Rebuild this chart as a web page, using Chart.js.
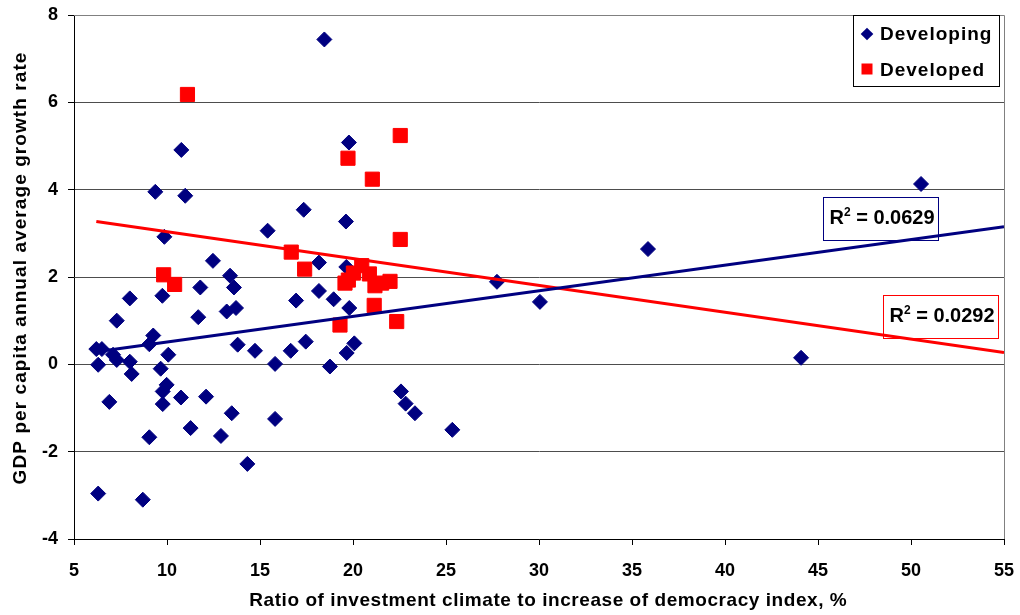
<!DOCTYPE html>
<html><head><meta charset="utf-8">
<script src="https://cdn.jsdelivr.net/npm/chart.js@4.4.0/dist/chart.umd.min.js"></script>
<style>html,body{margin:0;padding:0;background:#fff;}</style>
</head><body>
<canvas id="c" width="1020" height="615"></canvas>
<script>
// ---- data ----
const developingX = [6.2, 6.5, 6.3, 6.3, 6.9, 7.1, 7.3, 7.3, 8.0, 8.0, 8.1, 8.7, 9.05, 9.05, 9.26, 9.37, 9.66, 9.75, 9.77, 9.77,
  9.86, 9.98, 10.07, 10.75, 10.77, 10.98, 11.27, 11.68, 11.79, 12.1, 12.47, 12.9, 13.21, 13.39, 13.48, 13.6, 13.71, 13.8, 14.32, 14.73,
  15.41, 15.81, 15.81, 16.65, 16.94, 17.35, 17.46, 18.17, 18.17, 18.46, 18.76, 18.96, 19.62, 19.64, 19.66, 19.78, 19.8, 20.07,
  22.58, 22.83, 23.33, 25.34, 27.74, 30.05, 35.86, 44.09, 50.54];
const developingY = [0.35, 0.35, -0.01, -2.96, -0.86, 0.22, 0.1, 1.0, 0.06, 1.51, -0.22, -3.10, 0.46, -1.67, 0.66, 3.95, -0.1, 1.57, -0.62, -0.91,
  2.92, -0.47, 0.22, -0.76, 4.91, 3.86, -1.46, 1.08, 1.76, -0.74, 2.37, -1.64, 1.21, 2.03, -1.12, 1.76, 1.29, 0.45, -2.28, 0.31,
  3.06, 0.01, -1.25, 0.31, 1.46, 3.54, 0.52, 2.33, 1.68, 7.44, -0.05, 1.49, 3.27, 2.23, 0.26, 5.08, 1.29, 0.48,
  -0.62, -0.9, -1.12, -1.5, 1.89, 1.43, 2.64, 0.15, 4.13];
const developedX = [11.1, 9.82, 10.41, 19.73, 22.54, 21.04, 22.54, 16.68, 17.4, 19.57, 19.75, 20.02, 20.47, 20.88, 21.18, 21.54, 21.99, 21.14, 19.3, 22.35];
const developedY = [6.18, 2.05, 1.83, 4.72, 5.24, 4.24, 2.86, 2.57, 2.18, 1.86, 1.93, 2.09, 2.26, 2.07, 1.80, 1.86, 1.90, 1.35, 0.90, 0.98];
// trend lines (endpoints)
const developingTrendX = [6.2, 55];
const developingTrendY = [0.29, 3.15];
const developedTrendX = [6.2, 55];
const developedTrendY = [3.27, 0.27];
const developingR2 = '0.0629';
const developedR2 = '0.0292';
const seriesNames = ['Developing', 'Developed'];
const xTitle = 'Ratio of investment climate to increase of democracy index, %';
const yTitle = 'GDP per capita annual average growth rate';

const NAVY = '#000080', RED = '#FF0000';
const FONT = 'Arial, "Liberation Sans", sans-serif';
const pts = (xs, ys) => xs.map((x, i) => ({x, y: ys[i]}));

function spacedText(ctx, text, cx, cy, targetW) {
  ctx.letterSpacing = '0px';
  const w0 = ctx.measureText(text).width;
  const sp = (targetW - w0) / text.length;
  ctx.letterSpacing = sp.toFixed(2) + 'px';
  ctx.textAlign = 'center'; ctx.textBaseline = 'middle';
  ctx.fillText(text, cx + sp / 2, cy);
  ctx.letterSpacing = '0px';
}

const extras = {
  id: 'extras',
  afterDatasetsDraw(chart) {
    const {ctx, chartArea: a, scales: {x, y}} = chart;
    ctx.save();
    // top & right plot border (gray)
    ctx.strokeStyle = '#808080'; ctx.lineWidth = 1;
    ctx.beginPath();
    ctx.moveTo(a.left, a.top + 0.5); ctx.lineTo(a.right + 0.5, a.top + 0.5);
    ctx.lineTo(a.right + 0.5, a.bottom);
    ctx.stroke();

    // axis titles
    ctx.fillStyle = '#000';
    ctx.font = 'bold 19px ' + FONT;
    spacedText(ctx, xTitle, 548, 601, 598);
    ctx.save();
    ctx.translate(21, 268.5); ctx.rotate(-Math.PI / 2);
    spacedText(ctx, yTitle, 0, 0, 433);
    ctx.restore();

    // R² labels
    const drawR2 = (dx, dy, val, color) => {
      const cx = x.getPixelForValue(dx), cy = y.getPixelForValue(dy);
      const w = 115, h = 43;
      const left = Math.round(cx - w / 2) + 0.5, top = Math.round(cy - h / 2) + 0.5;
      ctx.strokeStyle = color; ctx.lineWidth = 1;
      ctx.strokeRect(left, top, w, h);
      ctx.fillStyle = '#000'; ctx.textBaseline = 'alphabetic'; ctx.textAlign = 'left';
      const base = cy + 5.5;
      let tx = left + 6;
      ctx.font = 'bold 20px ' + FONT;
      ctx.fillText('R', tx, base); tx += ctx.measureText('R').width;
      ctx.font = 'bold 12px ' + FONT;
      ctx.fillText('2', tx, base - 8); tx += ctx.measureText('2').width;
      ctx.font = 'bold 20px ' + FONT;
      ctx.fillText(' = ' + val, tx, base);
    };
    drawR2(48.38, 3.33, developingR2, NAVY);
    drawR2(51.6, 1.09, developedR2, RED);

    // legend
    const lx = 853.5, ly = a.top + 0.5, lw = 146, lh = 71;
    ctx.fillStyle = '#fff'; ctx.fillRect(lx, ly, lw, lh);
    ctx.strokeStyle = '#000'; ctx.strokeRect(lx, ly, lw, lh);
    ctx.fillStyle = NAVY;
    ctx.beginPath();
    const dxm = 867, dym = 34, r = 6.3;
    ctx.moveTo(dxm - r, dym); ctx.lineTo(dxm, dym - r); ctx.lineTo(dxm + r, dym); ctx.lineTo(dxm, dym + r); ctx.closePath(); ctx.fill();
    ctx.fillStyle = RED;
    ctx.fillRect(861.5, 63.5, 11, 11);
    ctx.fillStyle = '#000';
    ctx.font = 'bold 19px ' + FONT;
    ctx.textAlign = 'left'; ctx.textBaseline = 'alphabetic';
    ctx.letterSpacing = '1px';
    ctx.fillText(seriesNames[0], 880, 40);
    ctx.fillText(seriesNames[1], 880, 76);
    ctx.letterSpacing = '0px';
    ctx.restore();
  }
};

function trimPad(s) { s.paddingTop = 0; s.paddingBottom = 0; s.paddingLeft = 0; s.paddingRight = 0; }

new Chart(document.getElementById('c'), {
  type: 'scatter',
  data: {
    datasets: [
      { label: seriesNames[0] + ' trend', type: 'line', data: pts(developingTrendX, developingTrendY),
        borderColor: NAVY, borderWidth: 3, pointRadius: 0, fill: false, order: 0 },
      { label: seriesNames[1] + ' trend', type: 'line', data: pts(developedTrendX, developedTrendY),
        borderColor: RED, borderWidth: 3, pointRadius: 0, fill: false, order: 0 },
      { label: seriesNames[1], data: pts(developedX, developedY), pointStyle: 'rect', pointRadius: 10,
        backgroundColor: RED, borderColor: RED, borderWidth: 1, order: 1 },
      { label: seriesNames[0], data: pts(developingX, developingY), pointStyle: 'rectRot', pointRadius: 7.5,
        backgroundColor: NAVY, borderColor: NAVY, borderWidth: 1, order: 2 }
    ]
  },
  options: {
    responsive: false, animation: false, devicePixelRatio: 1,
    layout: { padding: { left: 0, top: 15, right: 16, bottom: 0 } },
    plugins: { legend: { display: false }, tooltip: { enabled: false } },
    scales: {
      x: {
        type: 'linear', min: 5, max: 55,
        afterFit(s) { s.height = 76; trimPad(s); },
        ticks: { stepSize: 5, color: '#000', padding: 15, font: { family: FONT, size: 18, weight: 'bold' }, maxRotation: 0 },
        grid: { drawOnChartArea: false, drawTicks: true, tickLength: 6, tickColor: '#000' },
        border: { color: '#000', width: 1 },
        title: { display: false }
      },
      y: {
        type: 'linear', min: -4, max: 8,
        afterFit(s) { s.width = 74; trimPad(s); },
        ticks: { stepSize: 2, color: '#000', padding: 10, font: { family: FONT, size: 18, weight: 'bold' } },
        grid: { color: '#4d4d4d', lineWidth: 1, drawTicks: true, tickLength: 6, tickColor: '#000' },
        border: { color: '#000', width: 1 },
        title: { display: false }
      }
    }
  },
  plugins: [extras]
});
</script>
</body></html>
